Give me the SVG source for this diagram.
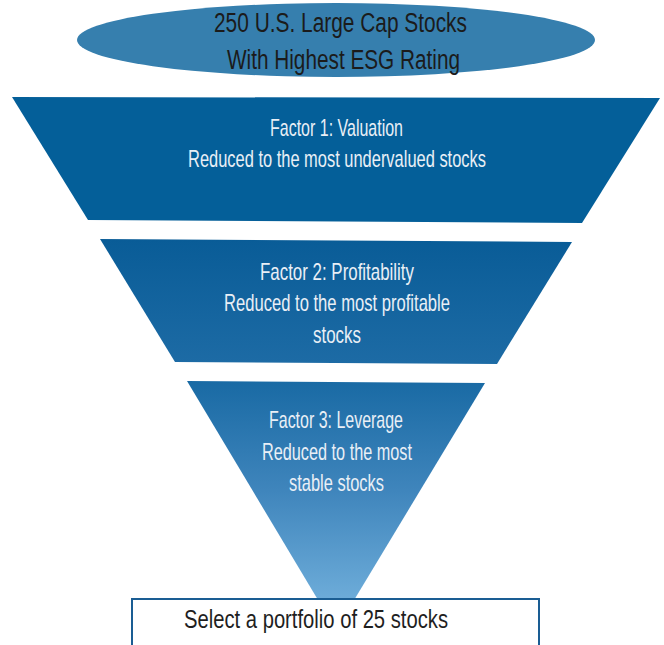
<svg xmlns="http://www.w3.org/2000/svg" width="664" height="645" viewBox="0 0 664 645">
<style>
.t{font-family:"Liberation Sans","DejaVu Sans",Arial,sans-serif;text-anchor:start}
.dark{fill:#1b1b1b;font-size:27px}
.light{fill:#e9eff6;font-size:24px}
.box{fill:#1f1f1f;font-size:25px}
</style>
<defs>
<linearGradient id="g2" x1="0" y1="0" x2="0" y2="1">
<stop offset="0" stop-color="#095c97"/>
<stop offset="1" stop-color="#1d6ba5"/>
</linearGradient>
<linearGradient id="g3" x1="0" y1="381" x2="0" y2="600" gradientUnits="userSpaceOnUse">
<stop offset="0" stop-color="#196aa4"/>
<stop offset="0.5" stop-color="#3f85bc"/>
<stop offset="1" stop-color="#6dacd9"/>
</linearGradient>
</defs>
<rect width="664" height="645" fill="#ffffff"/>
<g id="top">
<ellipse cx="336" cy="40" rx="259" ry="37" fill="#367fae"/>
<text class="t dark" x="214" y="32" textLength="253" lengthAdjust="spacingAndGlyphs">250 U.S. Large Cap Stocks</text>
<text class="t dark" x="227" y="69" textLength="233" lengthAdjust="spacingAndGlyphs">With Highest ESG Rating</text>
</g>
<g id="factor1">
<polygon points="12,97 660,98 582,223 88,220" fill="#045f99"/>
<text class="t light" x="270" y="136" textLength="133" lengthAdjust="spacingAndGlyphs">Factor 1: Valuation</text>
<text class="t light" x="188" y="167" textLength="298" lengthAdjust="spacingAndGlyphs">Reduced to the most undervalued stocks</text>
</g>
<g id="factor2">
<polygon points="100,239 572,242 497,364 175,362" fill="url(#g2)"/>
<text class="t light" x="260" y="280" textLength="154" lengthAdjust="spacingAndGlyphs">Factor 2: Profitability</text>
<text class="t light" x="224" y="311" textLength="226" lengthAdjust="spacingAndGlyphs">Reduced to the most profitable</text>
<text class="t light" x="313" y="343" textLength="48" lengthAdjust="spacingAndGlyphs">stocks</text>
</g>
<g id="factor3">
<polygon points="187,381 485,383 336,630" fill="url(#g3)"/>
<text class="t light" x="269" y="428" textLength="134" lengthAdjust="spacingAndGlyphs">Factor 3: Leverage</text>
<text class="t light" x="262" y="460" textLength="150" lengthAdjust="spacingAndGlyphs">Reduced to the most</text>
<text class="t light" x="289" y="491" textLength="95" lengthAdjust="spacingAndGlyphs">stable stocks</text>
</g>
<g id="connectors"></g>
<g id="result">
<rect x="132" y="599" width="407" height="60" fill="#ffffff" stroke="#1a5d93" stroke-width="2"/>
<text class="t box" x="184" y="628" textLength="264" lengthAdjust="spacingAndGlyphs">Select a portfolio of 25 stocks</text>
</g>
</svg>
